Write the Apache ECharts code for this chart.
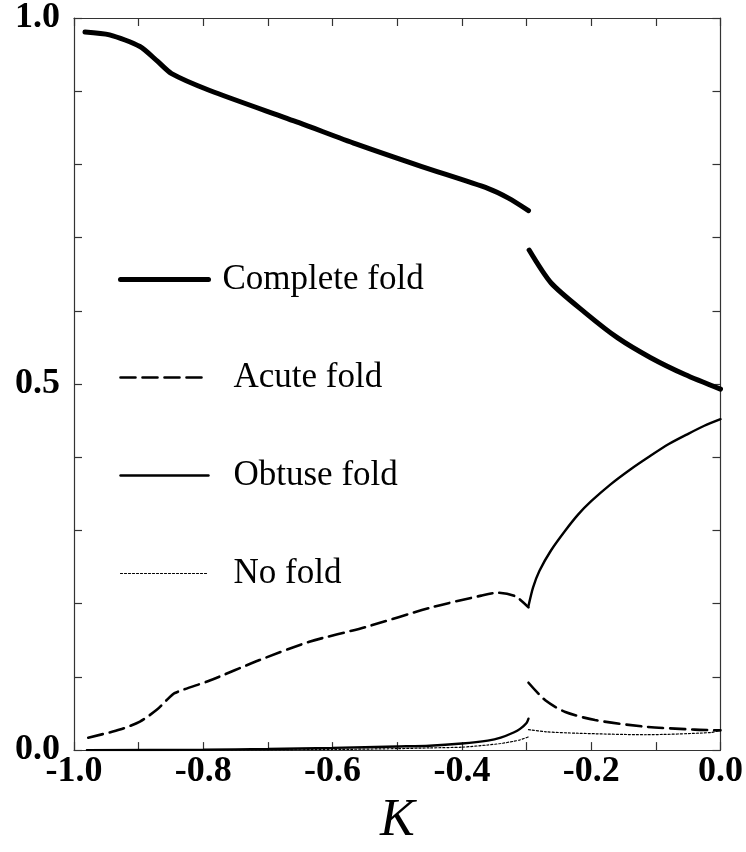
<!DOCTYPE html>
<html>
<head>
<meta charset="utf-8">
<script src="https://cdn.jsdelivr.net/npm/echarts@6/dist/echarts.min.js"></script>
<style>html,body{margin:0;padding:0;background:#fff}#c{width:746px;height:852px}</style>
</head>
<body>
<div id="c"></div>
<script>
// ---- Data ----
const seriesNames = ["Complete fold", "Acute fold", "Obtuse fold", "No fold"];
const xTickLabels = ["-1.0", "-0.8", "-0.6", "-0.4", "-0.2", "0.0"];
const yTickLabels = ["0.0", "0.5", "1.0"];

const completeLeft = [[-0.983,0.981],[-0.945,0.977],[-0.898,0.961],[-0.871,0.941],[-0.849,0.924],[-0.790,0.901],[-0.652,0.857],[-0.564,0.828],[-0.462,0.797],[-0.359,0.767],[-0.328,0.754],[-0.297,0.737]];
const completeRight = [[-0.296,0.683],[-0.262,0.638],[-0.210,0.598],[-0.159,0.563],[-0.108,0.536],[-0.055,0.513],[0.0,0.493]];

const acuteLeft = [[-0.978,0.017],[-0.929,0.028],[-0.898,0.039],[-0.872,0.055],[-0.857,0.068],[-0.844,0.078],[-0.790,0.095],[-0.713,0.123],[-0.636,0.148],[-0.549,0.168],[-0.447,0.195],[-0.370,0.211],[-0.344,0.215],[-0.317,0.210],[-0.297,0.195]];
const acuteRight = [[-0.297,0.092],[-0.271,0.068],[-0.240,0.052],[-0.194,0.041],[-0.117,0.032],[-0.040,0.028],[0.0,0.027]];

const obtuseLeft = [[-0.98,0.0],[-0.8,0.0005],[-0.7,0.0015],[-0.6,0.003],[-0.5,0.005],[-0.45,0.006],[-0.4,0.009],[-0.36,0.013],[-0.34,0.017],[-0.32,0.024],[-0.31,0.029],[-0.30,0.037],[-0.297,0.043]];
const obtuseRight = [[-0.297,0.197],[-0.29,0.222],[-0.28,0.245],[-0.262,0.273],[-0.24,0.300],[-0.22,0.322],[-0.2,0.340],[-0.17,0.363],[-0.14,0.383],[-0.11,0.401],[-0.08,0.418],[-0.05,0.432],[-0.025,0.443],[0.0,0.452]];

const noFoldLeft = [[-0.98,0.0],[-0.7,0.0003],[-0.6,0.0008],[-0.5,0.002],[-0.45,0.003],[-0.4,0.004],[-0.36,0.007],[-0.34,0.009],[-0.32,0.012],[-0.31,0.014],[-0.297,0.018]];
const noFoldRight = [[-0.297,0.028],[-0.270,0.025],[-0.220,0.023],[-0.117,0.021],[-0.015,0.024],[0.0,0.027]];

// ---- Chart ----
const serif = "'Liberation Serif','Times New Roman',serif";
const chart = echarts.init(document.getElementById('c'), null, {renderer: 'canvas'});

function lbl(list) {
  return function (v) {
    const s = (Math.abs(v) < 1e-9 ? 0 : v).toFixed(1);
    return list.indexOf(s) >= 0 ? s : '';
  };
}
const axisLineStyle = {color: '#333', width: 1.2};
const styles = {
  "Complete fold": {width: 5, type: 'solid'},
  "Acute fold": {width: 2.6, type: [15, 7]},
  "Obtuse fold": {width: 2.4, type: 'solid'},
  "No fold": {width: 1.2, type: [2, 2]}
};
function mk(name, data) {
  return {
    name: name, type: 'line', data: data, symbol: 'none', showSymbol: false,
    smooth: 0.25,
    lineStyle: Object.assign({color: '#000', cap: 'round'}, styles[name]),
    itemStyle: {color: '#000'}, emphasis: {disabled: true}, z: 3
  };
}
function axisCommon() {
  return {
    axisLine: {show: true, onZero: false, lineStyle: axisLineStyle},
    axisTick: {show: true, inside: true, length: 8, lineStyle: axisLineStyle},
    splitLine: {show: false}
  };
}

chart.setOption({
  animation: false,
  backgroundColor: '#fff',
  grid: {left: 74, right: 23, top: 16, bottom: 88},
  legend: {
    orient: 'vertical', left: 113, top: 257,
    itemWidth: 88, itemHeight: 30, itemGap: 63,
    data: seriesNames.map(function (n) {
      return {name: n, itemStyle: {opacity: 0}, lineStyle: Object.assign({color: '#000', opacity: 1}, styles[n])};
    }),
    formatter: function (n) { return n === 'Complete fold' ? '{c|' + n + '}' : '{o|' + n + '}'; },
    textStyle: {
      color: '#000', fontFamily: serif, fontSize: 34,
      rich: {
        c: {fontFamily: serif, fontSize: 35, color: '#000', padding: [0, 0, 0, 9]},
        o: {fontFamily: serif, fontSize: 35, color: '#000', padding: [0, 0, 0, 20]}
      }
    },
    selectedMode: false
  },
  xAxis: [Object.assign(axisCommon(), {
    type: 'value', min: -1, max: 0, interval: 0.1, position: 'bottom',
    name: 'K', nameLocation: 'middle', nameGap: 30,
    nameTextStyle: {fontFamily: serif, fontStyle: 'italic', fontSize: 52, color: '#000'},
    axisLabel: {formatter: lbl(xTickLabels), fontFamily: serif, fontWeight: 'bold', fontSize: 36, color: '#000', margin: 4, showMinLabel: true, showMaxLabel: true}
  }), Object.assign(axisCommon(), {
    type: 'value', min: -1, max: 0, interval: 0.1, position: 'top',
    axisLabel: {show: false}
  })],
  yAxis: [Object.assign(axisCommon(), {
    type: 'value', min: 0, max: 1, interval: 0.1, position: 'left',
    axisLabel: {formatter: lbl(yTickLabels), fontFamily: serif, fontWeight: 'bold', fontSize: 36, color: '#000', margin: 14, showMinLabel: true, showMaxLabel: true}
  }), Object.assign(axisCommon(), {
    type: 'value', min: 0, max: 1, interval: 0.1, position: 'right',
    axisLabel: {show: false}
  })],
  series: [
    mk("Complete fold", completeLeft), mk("Complete fold", completeRight),
    mk("Acute fold", acuteLeft), mk("Acute fold", acuteRight),
    mk("Obtuse fold", obtuseLeft), mk("Obtuse fold", obtuseRight),
    mk("No fold", noFoldLeft), mk("No fold", noFoldRight)
  ]
});
</script>
</body>
</html>
